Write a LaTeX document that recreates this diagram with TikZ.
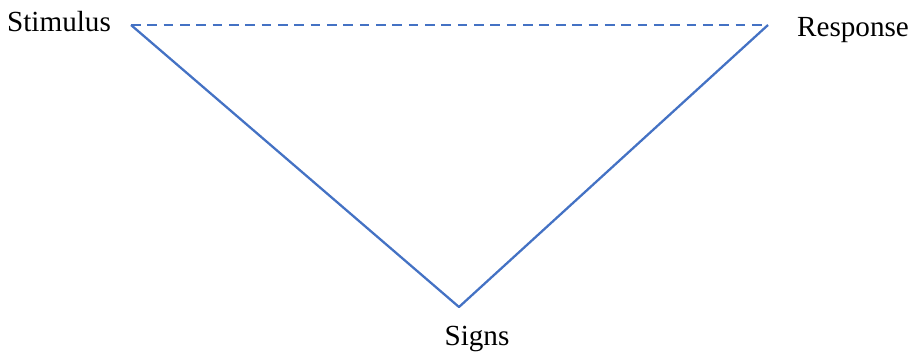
\documentclass[tikz,border=0pt]{standalone}
\usepackage{fontspec}
\setmainfont{Liberation Serif}
\usetikzlibrary{positioning}
\definecolor{Edge}{HTML}{4472C4}
\tikzset{
    label/.style={font=\fontsize{16.6}{19}\selectfont, inner sep=0pt, anchor=base},
    side/.style={Edge, line width=1.3pt},
    link/.style={Edge, line width=1.3pt, dash pattern=on 5.5pt off 3.8pt},
}
\begin{document}
\begin{tikzpicture}[x=0.02cm, y=0.02cm]
    \useasboundingbox (0,0) rectangle (916,357);
    % Ecken
    \coordinate (stim) at (131,332);
    \coordinate (resp) at (768,332);
    \coordinate (sign) at (459,50);

    % Beschriftungen
    \node[label] (stimtext) at (59,325) {Stimulus};
    \node[label] (resptext) at (853,320) {Response};
    \node[label] (signtext) at (477,11) {Signs};

    % Dreieck
    \draw[link] (stim) -- (resp);
    \draw[side, line join=round] (stim) -- (sign) -- (resp);
\end{tikzpicture}
\end{document}
